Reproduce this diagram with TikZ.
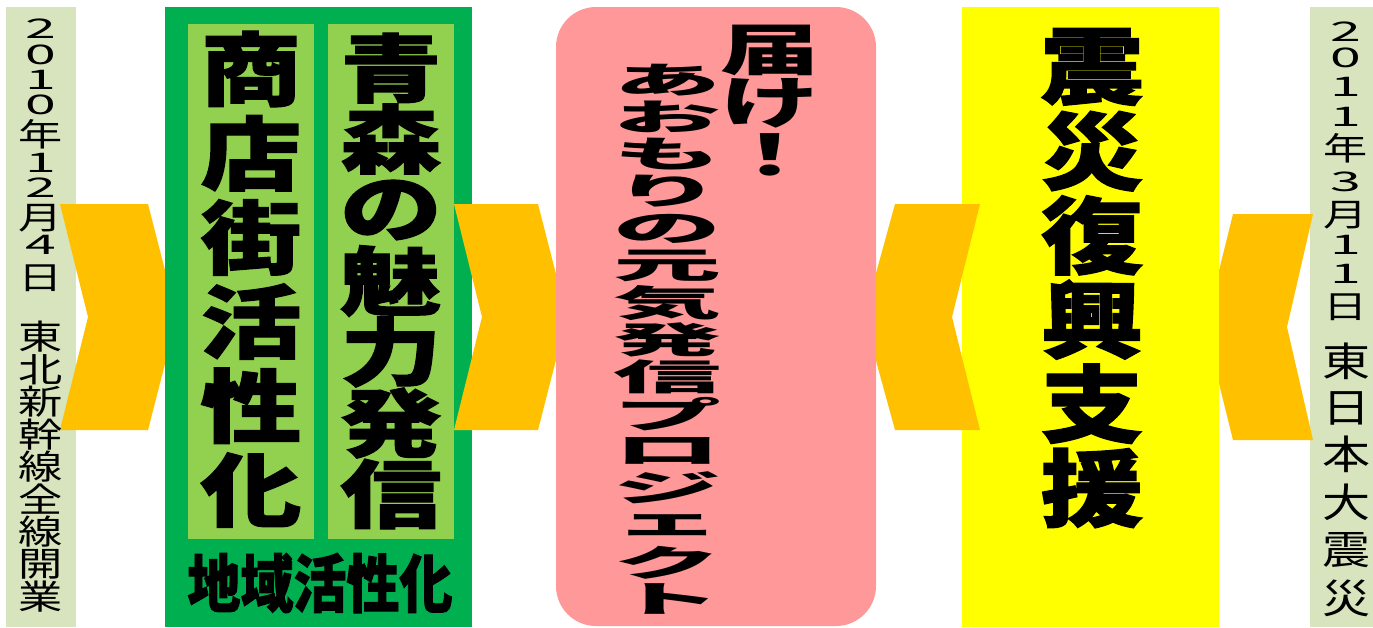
\documentclass[tikz,border=0pt]{standalone}
\usepackage{fontspec}
\usepackage{graphicx}
\newfontfamily\jp{Noto Sans CJK JP}
\newfontfamily\jpH{Noto Sans CJK JP}[BoldFeatures={FakeBold=1.5}]
\definecolor{sage}{HTML}{D7E4BD}
\definecolor{dgreen}{HTML}{00B050}
\definecolor{lgreen}{HTML}{92D050}
\definecolor{orng}{HTML}{FFC000}
\definecolor{pinkc}{HTML}{FF9999}
\definecolor{yell}{HTML}{FFFF00}
\newcommand\gl[4]{\scalebox{#2}[#3]{\fontsize{#1}{#1}\selectfont #4}}
\newcommand\gd[1]{{\jp\gl{27}{2.05}{1}{#1}}}
\newcommand\gk[1]{{\jp\gl{32}{1.38}{1}{#1}}}
\newcommand\gK[1]{{\jp\gl{34}{1.3}{1}{#1}}}
\newcommand\gR[1]{{\jp\gl{40}{1.2}{1}{#1}}}
\newcommand\hA[1]{{\jpH\bfseries\gl{80}{1.26}{1}{#1}}}
\newcommand\hB[1]{{\jpH\bfseries\gl{74}{1.37}{1}{#1}}}
\newcommand\hC[1]{{\jpH\bfseries\gl{84}{1.22}{1}{#1}}}
\newcommand\pA[1]{{\jp\bfseries\gl{56}{1.77}{1}{#1}}}
\newcommand\pB[1]{{\jp\bfseries\gl{36}{3.0}{1}{#1}}}
\tikzset{ch/.style={inner sep=0pt, outer sep=0pt, anchor=center, text=black}}
\begin{document}
\begin{tikzpicture}[x=1pt,y=-1pt]
\useasboundingbox (0,0) rectangle (1373,627);
\fill[white] (0,0) rectangle (1373,627);
% left date box
\fill[sage] (6,7) rectangle (76,627);
\fill[orng] (60,204) -- (148,204) -- (177,317) -- (148,430) -- (60,430) -- (88,317) -- cycle;
% green block
\fill[dgreen] (165,7) rectangle (472,627);
\fill[lgreen] (188,24) rectangle (314,539);
\fill[lgreen] (328,24) rectangle (454,539);
\fill[orng] (454,204) -- (538,204) -- (567,317) -- (538,430) -- (454,430) -- (482,317) -- cycle;
% right date box
\fill[sage] (1310,7) rectangle (1373,627);
\fill[orng] (1233,214) -- (1313,214) -- (1287,327) -- (1313,440) -- (1233,440) -- (1205,327) -- cycle;
% yellow
\fill[yell] (962,7) rectangle (1219,627);
\fill[orng] (895,204) -- (980,204) -- (952,317) -- (980,430) -- (895,430) -- (864,317) -- cycle;
% pink
\fill[pinkc, rounded corners=40pt] (556,7) rectangle (876,626);

% left column text
\foreach \c/\t/\y [count=\i] in {2/d/29,0/d/55,1/d/80,0/d/105,年/k/134,1/d/163,2/d/188,月/k/218,4/d/245,日/k/278}
  \node[ch] (L\i) at (41,\y) {\csname g\t\endcsname{\c}};
\foreach \c [count=\i] in {東,北,新,幹,線,全,線,開,業}
  \node[ch] (M\i) at (41,{337+32.5*(\i-1)}) {\gK{\c}};
% right column text
\foreach \c/\t/\y [count=\i] in {2/d/32,0/d/58,1/d/87,1/d/117,年/k/148,3/d/182,月/k/215,1/d/245,1/d/274,日/k/307}
  \node[ch] (R\i) at (1346,\y) {\csname g\t\endcsname{\c}};
\foreach \c/\y [count=\i] in {東/361,日/408,本/454,大/502,震/550,災/598}
  \node[ch] (S\i) at (1346,\y) {\gR{\c}};
% green columns
\foreach \c [count=\i] in {商,店,街,活,性,化}
  \node[ch] (A\i) at (251,{69+84.2*(\i-1)}) {\hA{\c}};
\foreach \c [count=\i] in {青,森,の,魅,力,発,信}
  \node[ch] (B\i) at (391,{68+71*(\i-1)}) {\hB{\c}};
\node[ch] (area) at (320,583) {\jpH\bfseries\gl{53}{1}{1.19}{地域活性化}};
% yellow column
\foreach \c [count=\i] in {震,災,復,興,支,援}
  \node[ch] (Y\i) at (1092,{67+84.2*(\i-1)}) {\hC{\c}};
% pink columns
\foreach \c/\y [count=\i] in {届/50,け/103,！/155}
  \node[ch] (P\i) at (770,\y) {\pA{\c}};
\foreach \c [count=\i] in {あ,お,も,り,の,元,気,発,信,プ,ロ,ジ,ェ,ク,ト}
  \node[ch] (Q\i) at (667,{80+37.1*(\i-1)}) {\pB{\c}};
\end{tikzpicture}
\end{document}
